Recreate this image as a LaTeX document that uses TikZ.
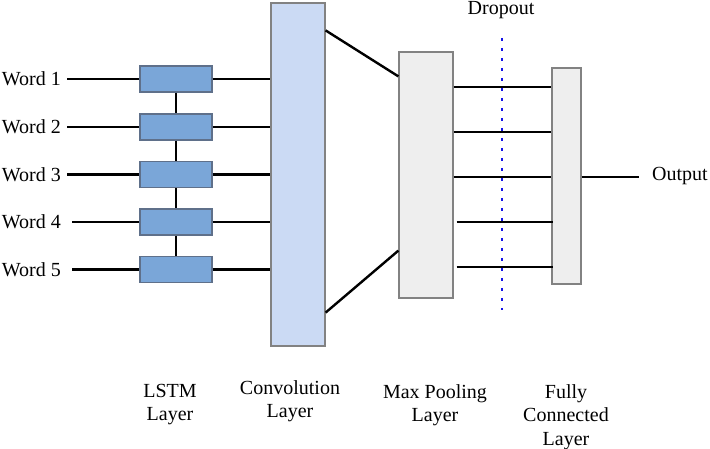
\documentclass[tikz,border=0pt]{standalone}
\usepackage{fontspec}
\setmainfont{Liberation Serif}
\definecolor{lstmfill}{RGB}{122,166,216}
\definecolor{lstmdraw}{RGB}{95,112,138}
\definecolor{convfill}{RGB}{203,218,244}
\definecolor{boxdraw}{RGB}{130,130,130}
\definecolor{greyfill}{RGB}{238,238,238}
\definecolor{dropblue}{RGB}{20,20,230}
\tikzset{
  lbl/.style={font=\fontsize{20}{23.5}\selectfont, inner sep=0pt, align=center},
  lstmbox/.style={draw=lstmdraw, fill=lstmfill, line width=1.2pt, minimum width=72pt, minimum height=26pt, inner sep=0pt},
  bigbox/.style={draw=boxdraw, line width=1.2pt, inner sep=0pt},
  wire/.style={line width=2.4pt, black},
  dropline/.style={dropblue, line width=2.6pt, dash pattern=on 2.6pt off 7.4pt}
}
\begin{document}
\begin{tikzpicture}[x=1pt,y=-1pt]
\useasboundingbox (0,0) rectangle (710,449);
% lstm boxes
\node[lstmbox] (l1) at (176,79) {};
\node[lstmbox] (l2) at (176,127) {};
\node[lstmbox] (l3) at (176,174.5) {};
\node[lstmbox] (l4) at (176,222) {};
\node[lstmbox] (l5) at (176,269.5) {};
% words
\node[lbl, anchor=east] (w1) at (61,79) {Word 1};
\node[lbl, anchor=east] (w2) at (61,127) {Word 2};
\node[lbl, anchor=east] (w3) at (61,174.5) {Word 3};
\node[lbl, anchor=east] (w4) at (61,222) {Word 4};
\node[lbl, anchor=east] (w5) at (61,269.5) {Word 5};
% conv
\node[bigbox, fill=convfill, minimum width=54pt, minimum height=343pt] (conv) at (298,174.5) {};
% pool
\node[bigbox, fill=greyfill, minimum width=54pt, minimum height=246pt] (pool) at (426,175) {};
% fc
\node[bigbox, fill=greyfill, minimum width=29pt, minimum height=216pt] (fc) at (566.5,176) {};
% row coordinates
\coordinate (r1) at (0,87);
\coordinate (r2) at (0,132);
\coordinate (r3) at (0,177);
\coordinate (r4) at (0,222);
\coordinate (r5) at (0,267);
\coordinate (d1) at (502,38);
\coordinate (d2) at (502,310);
\coordinate (outend) at (639,177);
% word wires
\draw[wire] ([xshift=6pt]w1.east) -- (l1.west);
\draw[wire] ([xshift=6pt]w2.east) -- (l2.west);
\draw[wire] ([xshift=6pt]w3.east) -- (l3.west);
\draw[wire] ([xshift=11pt]w4.east) -- (l4.west);
\draw[wire] ([xshift=11pt]w5.east) -- (l5.west);
% lstm chain
\draw[wire] (l1.south) -- (l2.north);
\draw[wire] (l2.south) -- (l3.north);
\draw[wire] (l3.south) -- (l4.north);
\draw[wire] (l4.south) -- (l5.north);
% lstm to conv
\draw[wire] (l1.east) -- (l1.east -| conv.west);
\draw[wire] (l2.east) -- (l2.east -| conv.west);
\draw[wire] (l3.east) -- (l3.east -| conv.west);
\draw[wire] (l4.east) -- (l4.east -| conv.west);
\draw[wire] (l5.east) -- (l5.east -| conv.west);
% conv to pool
\draw[wire] ([yshift=-28pt]conv.north east) -- ([yshift=-25pt]pool.north west);
\draw[wire] ([yshift=34pt]conv.south east) -- ([yshift=48pt]pool.south west);
% pool to fc
\draw[wire] (pool.east |- r1) -- (fc.west |- r1);
\draw[wire] (pool.east |- r2) -- (fc.west |- r2);
\draw[wire] (pool.east |- r3) -- (fc.west |- r3);
\draw[wire] ([xshift=3pt]pool.east |- r4) -- ([xshift=2pt]fc.west |- r4);
\draw[wire] ([xshift=3pt]pool.east |- r5) -- ([xshift=2pt]fc.west |- r5);
% dropout
\draw[dropline] (d1) -- (d2);
\node[lbl, anchor=base] (drop) at (501,15) {Dropout};
% output
\draw[wire] (fc.east |- outend) -- (outend);
\node[lbl, anchor=west] (out) at (652,176) {Output};
% bottom labels
\node[lbl, anchor=north] (lstml) at (170,384) {LSTM\\Layer};
\node[lbl, anchor=north] (convl) at (290,380) {Convolution\\Layer};
\node[lbl, anchor=north] (pooll) at (435,384) {Max Pooling\\Layer};
\node[lbl, anchor=north] (fcl) at (566,384) {Fully\\Connected\\Layer};
\end{tikzpicture}
\end{document}
